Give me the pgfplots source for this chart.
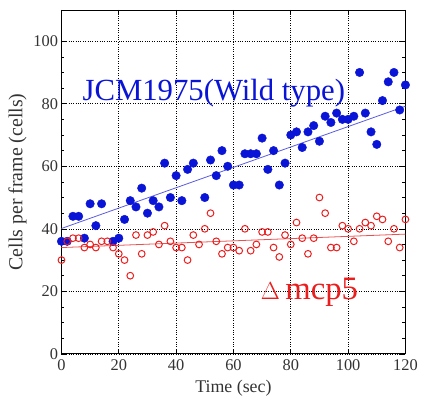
\documentclass[border=0pt]{standalone}
\usepackage{pgfplots}
\pgfplotsset{compat=1.18}
\usepackage{fontspec}
\setmainfont{Liberation Serif}
\definecolor{wtblue}{RGB}{10,20,215}
\definecolor{wtline}{RGB}{90,90,225}
\definecolor{mred}{RGB}{235,30,30}
\definecolor{mline}{RGB}{235,80,80}
\begin{document}
\begin{tikzpicture}
\begin{axis}[
  scale only axis,
  width=347pt, height=347pt,
  xmin=0, xmax=120, ymin=0, ymax=110,
  xtick={0,20,...,120}, ytick={0,20,...,100},
  minor y tick num=3,
  tick align=inside,
  major tick length=5pt, minor tick length=3pt,
  grid=major,
  major grid style={black, dotted, line width=0.6pt},
  axis line style={black, line width=0.8pt},
  tick style={black, line width=0.6pt},
  /pgf/number format/assume math mode=true,
  ticklabel style={font=\fontsize{16.5}{17}\selectfont, text=black!80},
  xticklabel style={yshift=-2pt},
  xlabel={Time (sec)}, ylabel={Cells per frame (cells)},
  xlabel style={font=\fontsize{18}{19}\selectfont, text=black!80, yshift=-3pt},
  ylabel style={font=\fontsize{20}{21}\selectfont, text=black!80, yshift=0pt},
  clip=false,
]
% blue fit line
\addplot[wtline, line width=0.8pt] coordinates {(0,40.1) (120,79.2)};
% red fit line
\addplot[mline, line width=0.8pt] coordinates {(0,34.0) (120,38.3)};
% JCM1975 wild type
\addplot[only marks, mark=*, mark size=4.3pt, color=wtblue, mark options={fill=wtblue, draw=wtblue}] coordinates {
(0,36) (2,36) (4,44) (6,44) (8,37) (10,48) (12,41) (14,48) (18,36) (20,37)
(22,43) (24,49) (26,47) (28,53) (30,45) (32,49) (34,47) (36,61) (38,50) (40,57)
(42,49) (44,59) (46,61) (50,50) (52,62) (54,57) (56,65) (58,60) (60,54) (62,54)
(64,64) (66,64) (68,64) (70,69) (72,59) (74,65) (76,54) (78,61) (80,70) (82,71)
(84,66) (86,71) (88,73) (90,68) (92,76) (94,74) (96,77) (98,75) (100,75) (102,76)
(104,90) (106,77) (108,71) (110,67) (112,81) (114,87) (116,90) (118,78) (120,86)
};
% delta mcp5
\addplot[only marks, mark=o, mark size=3.4pt, color=mred, mark options={line width=1pt}] coordinates {
(0,30) (2,36) (4,37) (6,37) (8,34) (10,35) (12,34) (14,36) (16,36) (18,34)
(20,32) (22,30) (24,25) (26,38) (28,32) (30,38) (32,39) (34,35) (36,41) (38,36)
(40,34) (42,34) (44,30) (46,38) (48,35) (50,40) (52,45) (54,36) (56,32) (58,34)
(60,34) (62,33) (64,40) (66,33) (68,35) (70,39) (72,39) (74,34) (76,31) (78,38)
(80,35) (82,42) (84,37) (86,32) (88,37) (90,50) (92,45) (94,34) (96,34) (98,41)
(100,40) (102,36) (104,40) (106,42) (108,41) (110,44) (112,43) (114,36) (116,40) (118,34)
(120,43)
};
\node[anchor=base west, text=wtblue, font=\fontsize{31}{32}\selectfont, inner sep=0pt] at (axis cs:7.3,81) {JCM1975(Wild type)};
\node[anchor=base west, text=mred, font=\fontsize{33}{34}\selectfont, inner sep=0pt] at (axis cs:69.5,17.4) {$\Delta$\,mcp5};
\end{axis}
\path (current axis.south west) ++(-62pt,-44pt) coordinate (bbA);
\path (current axis.north east) ++(12pt,10pt) coordinate (bbB);
\path (bbA) rectangle (bbB);
\end{tikzpicture}
\end{document}
